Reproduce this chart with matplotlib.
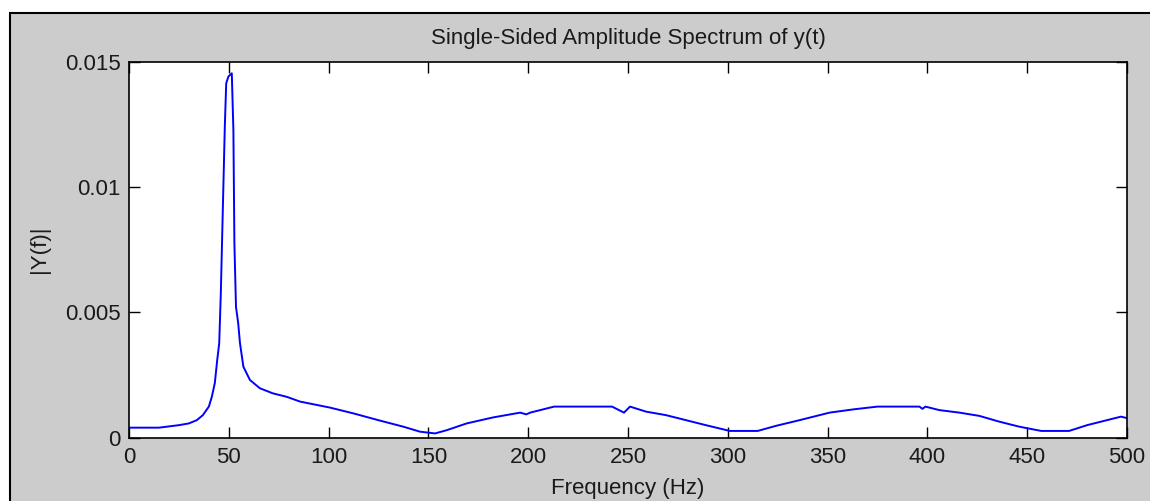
import matplotlib
matplotlib.use("Agg")
import matplotlib.pyplot as plt
from matplotlib.patches import Rectangle

# spectrum (Hz, |Y(f)|)
freq = [0, 15, 25, 30, 34, 37, 40, 41.5, 43, 44.2, 45.2, 46, 47, 48, 48.7,
        49.8, 51.5, 52.3, 52.8, 53.6, 54.7, 55.6, 57.3, 60.6, 65.6, 72, 79,
        85.7, 100.7, 112.4, 125.8, 137.4, 145.8, 153.3, 159.2, 169.2, 182.5,
        196, 199, 201, 213, 242, 248, 251, 259, 269, 279, 289, 301, 315, 324,
        336, 346, 351, 363, 375, 396, 397.5, 399, 406, 416, 426, 436, 446,
        457, 471, 480, 490, 497, 500]
amp = [0.40, 0.40, 0.50, 0.57, 0.70, 0.90, 1.24, 1.63, 2.18, 3.10, 3.77,
       5.77, 9.08, 12.4, 14.13, 14.4, 14.53, 12.27, 7.76, 5.22, 4.57, 3.77,
       2.83, 2.30, 1.97, 1.77, 1.63, 1.44, 1.20, 0.97, 0.68, 0.44, 0.24,
       0.17, 0.30, 0.57, 0.81, 1.00, 0.93, 1.00, 1.24, 1.24, 1.00, 1.24,
       1.04, 0.90, 0.70, 0.50, 0.27, 0.27, 0.47, 0.70, 0.90, 1.00, 1.13,
       1.24, 1.24, 1.15, 1.24, 1.10, 1.00, 0.87, 0.64, 0.44, 0.27, 0.27,
       0.50, 0.70, 0.84, 0.78]
amp = [a * 1e-3 for a in amp]

xticks = [0, 50, 100, 150, 200, 250, 300, 350, 400, 450, 500]
yticks = [0, 0.005, 0.01, 0.015]
ytick_labels = ["0", "0.005", "0.01", "0.015"]

plt.rcParams["font.family"] = ["Liberation Sans", "DejaVu Sans"]
FS = 16
TXT = "#1a1a1a"

fig = plt.figure(figsize=(11.5, 5.01), dpi=100, facecolor="white")
# gray MATLAB-style window with black frame (right/bottom edges cut off)
fig.patches.append(Rectangle((10 / 1150, -0.1), 1.2, 1 - 13 / 501 + 0.1,
                             transform=fig.transFigure, facecolor="#cccccc",
                             edgecolor="black", linewidth=1.5, zorder=-1))

ax = fig.add_axes([129 / 1150, 1 - 437.7 / 501,
                   (1127 - 129) / 1150, (437.7 - 61.5) / 501])
ax.plot(freq, amp, color="#0000ff", linewidth=1.4)
ax.set_xlim(0, 500)
ax.set_ylim(0, 0.015)
ax.set_xticks(xticks)
ax.set_xticklabels([str(t) for t in xticks], fontsize=FS, color=TXT)
ax.set_yticks(yticks)
ax.set_yticklabels(ytick_labels, fontsize=FS, color=TXT)
ax.tick_params(direction="in", length=8, width=1, top=True, right=True,
               colors="black", labelcolor=TXT)
ax.tick_params(axis="x", pad=7)
ax.tick_params(axis="y", pad=6)
for s in ax.spines.values():
    s.set_linewidth(1.2)
ax.set_title("Single-Sided Amplitude Spectrum of y(t)", fontsize=FS,
             pad=12.5, color=TXT)
ax.set_xlabel("Frequency (Hz)", fontsize=FS, labelpad=7, color=TXT)
ax.set_ylabel("|Y(f)|", fontsize=FS, labelpad=11, color=TXT)

fig.savefig("out.png", dpi=100)
